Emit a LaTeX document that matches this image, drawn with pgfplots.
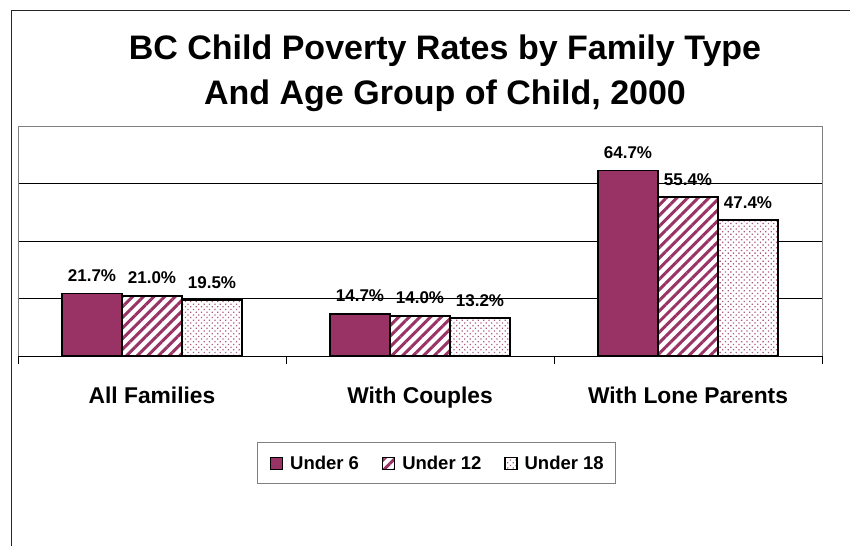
\documentclass[border=0pt]{standalone}
\usepackage{fontspec}
\setmainfont{Liberation Sans}
\usepackage{pgfplots}
\pgfplotsset{compat=1.18}
\usetikzlibrary{patterns.meta}
\definecolor{maroon}{RGB}{153,51,102}
\begin{document}
\begin{tikzpicture}[x=1pt,y=1pt]
\useasboundingbox (0,0) rectangle (850,546);
\draw[black!85, line width=1pt] (11,0) -- (11,535) -- (850,535);
\node[anchor=base, inner sep=0pt, font=\bfseries\fontsize{34}{40}\selectfont] at (445,486.7) {BC Child Poverty Rates by Family Type};
\node[anchor=base, inner sep=0pt, font=\bfseries\fontsize{34}{40}\selectfont] at (445,441) {And Age Group of Child, 2000};
\begin{axis}[
  at={(18pt,190pt)}, anchor=south west,
  scale only axis, width=804pt, height=229.5pt,
  xmin=-0.5, xmax=2.5, ymin=0, ymax=80,
  axis x line*=bottom, axis y line*=left,
  x axis line style={black, line width=1pt},
  y axis line style={gray, line width=1pt},
  after end axis/.code={\draw[gray, line width=1pt] (rel axis cs:0,1) -- (rel axis cs:1,1) -- (rel axis cs:1,0);},
  ybar=0pt, bar width=60pt,
  xtick={0,1,2},
  xticklabels={All Families, With Couples, With Lone Parents},
  x tick style={draw=none},
  extra x ticks={-0.5,0.5,1.5,2.5},
  extra x tick labels={},
  extra x tick style={x tick style={draw=black, line width=0.8pt}, major tick length=8pt, tick align=outside},
  xticklabel style={font=\bfseries\fontsize{22.8}{26}\selectfont, anchor=base, yshift=-43pt},
  ytick={20,40,60}, yticklabels={},
  y tick style={draw=none},
  ymajorgrids, major grid style={black, line width=0.8pt},
  nodes near coords={\pgfmathprintnumber[fixed,fixed zerofill,precision=1,assume math mode=true]{\pgfplotspointmeta}\%},
  every node near coord/.append style={anchor=base, yshift=12pt, inner sep=0pt, black, font=\bfseries\fontsize{17}{20}\selectfont},
  legend columns=3,
  legend image code/.code={\draw[#1, draw=black, line width=1.2pt] (0pt,0pt) rectangle (12pt,12pt);},
  legend style={at={(0.521,-0.467)}, anchor=center, draw=gray, line width=1pt,
    inner xsep=12pt, inner ysep=13pt,
    font=\bfseries\fontsize{18.5}{22}\selectfont,
    nodes={inner sep=0pt, anchor=base},
    /tikz/every odd column/.append style={column sep=7pt},
    /tikz/every even column/.append style={column sep=23pt}},
]
\addplot[draw=black, line width=1.5pt, fill=maroon] coordinates {(0,21.7) (1,14.7) (2,64.7)};
\addplot[draw=black, line width=1.5pt, fill=white, postaction={pattern={Lines[angle=45,distance=7.5pt,line width=3pt]}, pattern color=maroon}] coordinates {(0,21.0) (1,14.0) (2,55.4)};
\addplot[draw=black, line width=1.5pt, fill=white, postaction={pattern={Dots[angle=45,distance=3.8pt,radius=0.9pt]}, pattern color=maroon!80}] coordinates {(0,19.5) (1,13.2) (2,47.4)};
\legend{Under 6, Under 12, Under 18}
\end{axis}
\end{tikzpicture}
\end{document}
